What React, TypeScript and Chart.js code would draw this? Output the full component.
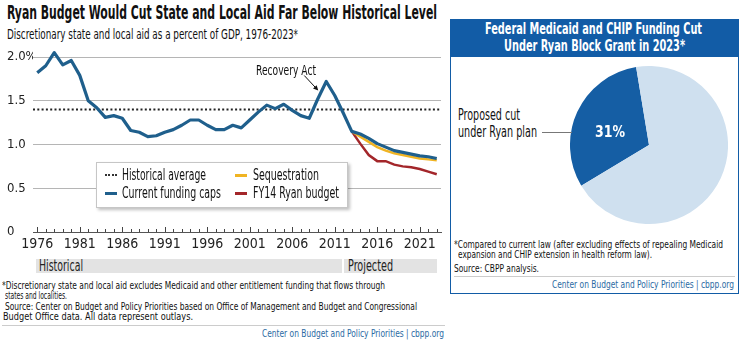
import React, { useEffect, useLayoutEffect, useRef } from 'react';
import { Chart, registerables } from 'chart.js';

Chart.register(...registerables);

// ---------------- DATA ----------------
const YEARS = [
  '1976', '1977', '1978', '1979', '1980', '1981', '1982', '1983', '1984', '1985',
  '1986', '1987', '1988', '1989', '1990', '1991', '1992', '1993', '1994', '1995',
  '1996', '1997', '1998', '1999', '2000', '2001', '2002', '2003', '2004', '2005',
  '2006', '2007', '2008', '2009', '2010', '2011', '2012', '2013', '2014', '2015',
  '2016', '2017', '2018', '2019', '2020', '2021', '2022', '2023',
];
const CURRENT_FUNDING_CAPS = [
  1.82, 1.9, 2.05, 1.91, 1.96, 1.79, 1.5, 1.42, 1.31, 1.33,
  1.3, 1.16, 1.14, 1.09, 1.1, 1.14, 1.17, 1.22, 1.28, 1.28,
  1.22, 1.17, 1.17, 1.22, 1.19, 1.28, 1.37, 1.45, 1.41, 1.46,
  1.39, 1.33, 1.3, 1.52, 1.72, 1.56, 1.36, 1.15, 1.12, 1.07,
  1.01, 0.97, 0.93, 0.91, 0.89, 0.87, 0.86, 0.84,
];
const PROJECTION_START = '2013';
const SEQUESTRATION = [1.15, 1.09, 1.03, 0.97, 0.93, 0.9, 0.88, 0.86, 0.84, 0.83, 0.82];
const RYAN_BUDGET = [1.15, 1.01, 0.88, 0.81, 0.81, 0.77, 0.75, 0.74, 0.72, 0.69, 0.66];
const HISTORICAL_AVERAGE = 1.41;
const Y_MIN = 0;
const Y_MAX = 2;
const Y_STEP = 0.5;
const LABEL_EVERY = 5;
const ANNOTATION_YEAR = '2010';

const PIE_LABELS = ['Proposed cut under Ryan plan', 'Remaining funding'];
const PIE_VALUES = [31, 69];

// ---------------- STYLE ----------------
const FONT = "'Liberation Sans Narrow', 'DejaVu Sans Condensed', 'Liberation Sans', Arial, sans-serif";
const BLUE = '#1f5f8c';
const YELLOW = '#f0b423';
const RED = '#a3262a';
const PANEL_BLUE = '#125ca6';
const PIE_DARK = '#155ea4';
const PIE_LIGHT = '#cfe0ef';
const LINK_BLUE = '#2b6aa3';

type TProps = {
  x: number;
  cy: number;
  w?: number;
  size: number;
  bold?: boolean;
  color?: string;
  children: React.ReactNode;
};

function T({ x, cy, w, size, bold, color = '#111', children }: TProps) {
  const ref = useRef<HTMLSpanElement>(null);
  useLayoutEffect(() => {
    const fit = () => {
      const el = ref.current;
      if (!el || !w) return;
      el.style.transform = 'none';
      const natural = el.getBoundingClientRect().width;
      if (natural > 0) el.style.transform = `scaleX(${w / natural})`;
    };
    fit();
    if ((document as any).fonts && (document as any).fonts.ready) {
      (document as any).fonts.ready.then(fit);
    }
  });
  return (
    <span
      ref={ref}
      style={{
        position: 'absolute',
        left: x,
        top: cy - size * 0.5,
        fontSize: size,
        lineHeight: `${size}px`,
        fontWeight: bold ? 700 : 400,
        color,
        whiteSpace: 'nowrap',
        transformOrigin: 'left top',
        fontFamily: FONT,
      }}
    >
      {children}
    </span>
  );
}

function LineChart() {
  const ref = useRef<HTMLCanvasElement>(null);
  useEffect(() => {
    if (!ref.current) return;
    const startIdx = YEARS.indexOf(PROJECTION_START);
    const pad = (arr: number[]) => YEARS.map((_, i) => (i < startIdx ? null : arr[i - startIdx]));

    const histPlugin = {
      id: 'histAvg',
      beforeDatasetsDraw(chart: any) {
        const { ctx, chartArea, scales } = chart;
        const y = Math.round(scales.y.getPixelForValue(HISTORICAL_AVERAGE)) + 0.5;
        ctx.save();
        ctx.strokeStyle = '#222';
        ctx.lineWidth = 2;
        ctx.setLineDash([2, 2.3]);
        ctx.beginPath();
        ctx.moveTo(chartArea.left, y);
        ctx.lineTo(chartArea.right, y);
        ctx.stroke();
        ctx.restore();
      },
    };

    const tickPlugin = {
      id: 'upTicks',
      afterDraw(chart: any) {
        const { ctx, chartArea, scales } = chart;
        const y0 = chartArea.bottom;
        ctx.save();
        ctx.strokeStyle = '#444';
        ctx.lineWidth = 1;
        YEARS.forEach((_, i) => {
          const x = Math.round(scales.x.getPixelForValue(i)) + 0.5;
          const h = i % LABEL_EVERY === 0 ? 5 : 3;
          ctx.beginPath();
          ctx.moveTo(x, y0);
          ctx.lineTo(x, y0 - h);
          ctx.stroke();
        });
        ctx.restore();
      },
    };

    const arrowPlugin = {
      id: 'arrow',
      afterDatasetsDraw(chart: any) {
        const { ctx, scales } = chart;
        const i = YEARS.indexOf(ANNOTATION_YEAR);
        const px = scales.x.getPixelForValue(i);
        const py = scales.y.getPixelForValue(CURRENT_FUNDING_CAPS[i]);
        const x1 = px - 22, y1 = py - 6;
        const x2 = px - 8, y2 = py + 9;
        const ang = Math.atan2(y2 - y1, x2 - x1);
        ctx.save();
        ctx.strokeStyle = '#111';
        ctx.fillStyle = '#111';
        ctx.lineWidth = 1;
        ctx.beginPath();
        ctx.moveTo(x1, y1);
        ctx.lineTo(x2 - 3 * Math.cos(ang), y2 - 3 * Math.sin(ang));
        ctx.stroke();
        ctx.beginPath();
        ctx.moveTo(x2, y2);
        ctx.lineTo(x2 - 5 * Math.cos(ang) + 2.5 * Math.sin(ang), y2 - 5 * Math.sin(ang) - 2.5 * Math.cos(ang));
        ctx.lineTo(x2 - 5 * Math.cos(ang) - 2.5 * Math.sin(ang), y2 - 5 * Math.sin(ang) + 2.5 * Math.cos(ang));
        ctx.closePath();
        ctx.fill();
        ctx.restore();
      },
    };

    const chart = new Chart(ref.current, {
      type: 'line',
      data: {
        labels: YEARS,
        datasets: [
          {
            label: 'Current funding caps',
            data: CURRENT_FUNDING_CAPS,
            borderColor: BLUE,
            backgroundColor: BLUE,
            borderWidth: 3.2,
            pointRadius: 0,
            tension: 0,
            order: 0,
            clip: false as any,
            borderJoinStyle: 'round',
          },
          {
            label: 'Sequestration',
            data: pad(SEQUESTRATION),
            borderColor: YELLOW,
            backgroundColor: YELLOW,
            borderWidth: 2.5,
            pointRadius: 0,
            tension: 0,
            order: 1,
          },
          {
            label: 'FY14 Ryan budget',
            data: pad(RYAN_BUDGET),
            borderColor: RED,
            backgroundColor: RED,
            borderWidth: 2.5,
            pointRadius: 0,
            tension: 0,
            order: 2,
          },
        ],
      },
      options: {
        responsive: false,
        animation: false,
        layout: { padding: { left: 7, top: 17, right: 9, bottom: 0 } },
        plugins: { legend: { display: false }, tooltip: { enabled: false } },
        scales: {
          x: {
            type: 'category',
            offset: true,
            grid: { display: false, drawTicks: false },
            border: { display: true, color: '#555', width: 1 },
            ticks: {
              autoSkip: false,
              maxRotation: 0,
              minRotation: 0,
              padding: 4,
              color: '#222',
              font: { family: FONT, size: 14 },
              callback: (_v: any, i: number) => (i % LABEL_EVERY === 0 ? YEARS[i] : ''),
            },
            afterFit: (s: any) => {
              s.height = 23;
            },
          },
          y: {
            min: Y_MIN,
            max: Y_MAX,
            grid: {
              drawTicks: false,
              lineWidth: 1,
              color: (c: any) => (c.tick && c.tick.value === 0 ? 'rgba(0,0,0,0)' : '#b5b5b5'),
            },
            border: { display: false },
            ticks: {
              stepSize: Y_STEP,
              crossAlign: 'far',
              padding: 0,
              color: '#222',
              font: { family: FONT, size: 13 },
              callback: (v: any) => (v === Y_MAX ? Y_MAX.toFixed(1) + '%' : v === 0 ? '0' : Number(v).toFixed(1)),
            },
            afterFit: (s: any) => {
              s.width = 26;
            },
          },
        },
      } as any,
      plugins: [histPlugin, tickPlugin, arrowPlugin],
    });
    return () => chart.destroy();
  }, []);
  return (
    <canvas
      ref={ref}
      width={450}
      height={215}
      style={{ position: 'absolute', left: 0, top: 40, width: 450, height: 215 }}
    />
  );
}

function PieChart() {
  const ref = useRef<HTMLCanvasElement>(null);
  useEffect(() => {
    if (!ref.current) return;
    const chart = new Chart(ref.current, {
      type: 'pie',
      data: {
        labels: PIE_LABELS,
        datasets: [{ data: PIE_VALUES, backgroundColor: [PIE_DARK, PIE_LIGHT], borderWidth: 0 }],
      },
      options: {
        responsive: false,
        animation: false,
        rotation: 239,
        layout: { padding: 0 },
        plugins: { legend: { display: false }, tooltip: { enabled: false } },
      } as any,
    });
    return () => chart.destroy();
  }, []);
  return (
    <canvas
      ref={ref}
      width={158}
      height={158}
      style={{ position: 'absolute', left: 570, top: 66, width: 158, height: 158 }}
    />
  );
}

const Swatch = ({ x, y, color }: { x: number; y: number; color: string }) => (
  <div style={{ position: 'absolute', left: x, top: y - 1.5, width: 12, height: 3, background: color }} />
);

export default function App() {
  return (
    <div
      style={{
        position: 'absolute',
        left: 0,
        top: 0,
        width: 743,
        height: 340,
        background: '#fff',
        overflow: 'hidden',
        fontFamily: FONT,
      }}
    >
      {/* Left chart */}
      <T x={7} cy={12} w={430} size={19} bold>
        Ryan Budget Would Cut State and Local Aid Far Below Historical Level
      </T>
      <T x={7} cy={34} w={291} size={14}>
        Discretionary state and local aid as a percent of GDP, 1976-2023*
      </T>
      <LineChart />
      <T x={256} cy={70} w={60} size={14}>
        Recovery Act
      </T>

      {/* Legend */}
      <div
        style={{
          position: 'absolute',
          left: 96,
          top: 162,
          width: 252,
          height: 46,
          background: '#fff',
          border: '1px solid #c6c6c6',
          boxShadow: '2px 2px 3px rgba(0,0,0,0.25)',
          boxSizing: 'border-box',
        }}
      />
      <div style={{ position: 'absolute', left: 105, top: 174, width: 12, height: 0, borderTop: '2px dotted #333' }} />
      <T x={122} cy={175} w={84} size={15}>
        Historical average
      </T>
      <Swatch x={105} y={193} color={BLUE} />
      <T x={122} cy={193} w={99} size={15}>
        Current funding caps
      </T>
      <Swatch x={235} y={175} color={YELLOW} />
      <T x={253} cy={175} w={66} size={15}>
        Sequestration
      </T>
      <Swatch x={235} y={193} color={RED} />
      <T x={253} cy={193} w={86} size={15}>
        FY14 Ryan budget
      </T>

      {/* Period bands */}
      <div style={{ position: 'absolute', left: 36, top: 259, width: 306, height: 14, background: '#e3e3e3' }} />
      <div style={{ position: 'absolute', left: 344, top: 259, width: 93, height: 14, background: '#e3e3e3' }} />
      <T x={39} cy={266} w={44} size={15} color="#222">
        Historical
      </T>
      <T x={348} cy={266} w={45} size={15} color="#222">
        Projected
      </T>

      {/* Left notes */}
      <T x={2} cy={285} w={383} size={11}>
        *Discretionary state and local aid excludes Medicaid and other entitlement funding that flows through
      </T>
      <T x={5} cy={295} w={62} size={11}>
        states and localities.
      </T>
      <T x={5} cy={306} w={412} size={11}>
        Source: Center on Budget and Policy Priorities based on Office of Management and Budget and Congressional
      </T>
      <T x={3} cy={316} w={190} size={11}>
        Budget Office data. All data represent outlays.
      </T>
      <div style={{ position: 'absolute', left: 2, top: 325, width: 443, height: 1, background: '#cccccc' }} />
      <T x={262} cy={333} w={182} size={11} color={LINK_BLUE}>
        Center on Budget and Policy Priorities | cbpp.org
      </T>

      {/* Right panel */}
      <div
        style={{
          position: 'absolute',
          left: 450,
          top: 19,
          width: 289,
          height: 275,
          border: `1.5px solid ${PANEL_BLUE}`,
          boxSizing: 'border-box',
        }}
      />
      <div style={{ position: 'absolute', left: 450, top: 19, width: 289, height: 38, background: PANEL_BLUE }} />
      <T x={485} cy={29} w={217} size={15} bold color="#fff">
        Federal Medicaid and CHIP Funding Cut
      </T>
      <T x={504} cy={46} w={181} size={15} bold color="#fff">
        Under Ryan Block Grant in 2023*
      </T>
      <PieChart />
      <T x={458} cy={115} w={62} size={15}>
        Proposed cut
      </T>
      <T x={458} cy={132} w={79} size={15}>
        under Ryan plan
      </T>
      <div style={{ position: 'absolute', left: 542, top: 132, width: 30, height: 1, background: '#777' }} />
      <T x={595} cy={132} w={30} size={16} bold color="#fff">
        31%
      </T>
      <T x={454} cy={244} w={269} size={11}>
        *Compared to current law (after excluding effects of repealing Medicaid
      </T>
      <T x={458} cy={254} w={194} size={11}>
        expansion and CHIP extension in health reform law).
      </T>
      <T x={454} cy={268} w={85} size={11}>
        Source:  CBPP analysis.
      </T>
      <div style={{ position: 'absolute', left: 454, top: 276, width: 281, height: 1, background: '#cccccc' }} />
      <T x={552} cy={284} w={182} size={11} color={LINK_BLUE}>
        Center on Budget and Policy Priorities | cbpp.org
      </T>
    </div>
  );
}
